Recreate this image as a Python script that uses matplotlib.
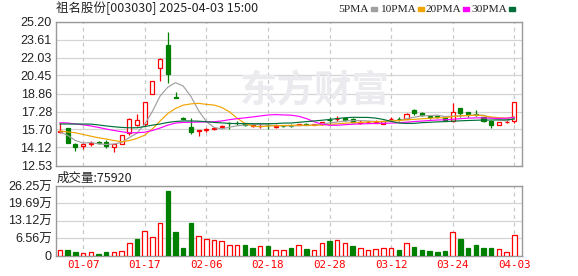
import matplotlib
matplotlib.use('Agg')
import matplotlib.pyplot as plt
from matplotlib.patches import Rectangle

plt.rcParams['font.family'] = ['Noto Sans CJK SC', 'DejaVu Sans']

# ---------------- data ----------------
dates = ['01-02', '01-03', '01-06', '01-07', '01-08', '01-09', '01-10', '01-13', '01-14', '01-15',
         '01-16', '01-17', '01-20', '01-21', '01-22', '01-23', '01-24', '01-27', '02-05', '02-06',
         '02-07', '02-10', '02-11', '02-12', '02-13', '02-14', '02-17', '02-18', '02-19', '02-20',
         '02-21', '02-24', '02-25', '02-26', '02-27', '02-28', '03-03', '03-04', '03-05', '03-06',
         '03-07', '03-10', '03-11', '03-12', '03-13', '03-14', '03-17', '03-18', '03-19', '03-20',
         '03-21', '03-24', '03-25', '03-26', '03-27', '03-28', '03-31', '04-01', '04-02', '04-03']

opens = [15.45, 15.80, 14.38, 14.23, 14.45, 14.56, 14.56, 14.15, 14.44, 15.40,
         16.08, 16.20, 18.84, 21.13, 23.12, 18.52, 16.75, 15.88, 15.58, 15.62,
         15.73, 15.88, 16.28, 16.27, 16.25, 16.03, 15.98, 16.10, 15.94, 16.02,
         16.04, 16.08, 16.20, 16.12, 16.14, 16.52, 16.60, 16.73, 16.64, 16.30,
         16.33, 16.30, 16.20, 16.60, 16.66, 16.64, 17.37, 17.13, 16.85, 16.87,
         16.70, 16.43, 17.55, 17.20, 17.10, 16.76, 16.43, 16.11, 16.38, 16.43]
highs = [16.30, 15.85, 14.47, 14.47, 14.67, 14.67, 14.73, 14.40, 15.20, 16.70,
         17.10, 18.14, 20.00, 21.95, 24.26, 19.02, 16.80, 16.73, 15.66, 15.80,
         15.90, 16.05, 16.32, 16.43, 16.30, 16.10, 16.26, 16.26, 16.14, 16.10,
         16.18, 16.22, 16.25, 16.22, 16.40, 16.78, 16.90, 16.75, 16.73, 16.50,
         16.45, 16.50, 16.45, 16.78, 16.78, 17.15, 17.52, 17.22, 16.90, 16.90,
         16.72, 17.99, 17.60, 17.20, 17.37, 16.82, 16.45, 16.38, 16.50, 18.14]
lows = [15.40, 14.48, 13.80, 14.00, 14.23, 14.38, 14.09, 13.70, 14.40, 15.20,
        16.00, 16.00, 18.80, 20.00, 19.80, 18.44, 16.60, 15.30, 15.10, 15.52,
        15.68, 15.80, 15.78, 16.05, 16.00, 15.95, 15.85, 15.76, 15.87, 15.90,
        15.92, 16.05, 16.05, 16.08, 16.10, 16.20, 16.43, 16.43, 16.25, 16.20,
        16.28, 16.25, 16.18, 16.43, 16.43, 16.60, 16.93, 16.90, 16.65, 16.75,
        16.45, 16.40, 16.82, 16.80, 16.85, 16.32, 15.80, 16.08, 16.30, 16.25]
closes = [15.60, 14.50, 14.20, 14.44, 14.53, 14.52, 14.22, 14.38, 15.17, 16.65,
          16.49, 18.14, 20.00, 21.92, 20.57, 18.46, 16.65, 15.46, 15.64, 15.78,
          15.85, 16.02, 16.23, 16.23, 16.10, 16.06, 16.02, 16.05, 15.97, 15.98,
          15.98, 16.20, 16.12, 16.18, 16.38, 16.49, 16.64, 16.57, 16.32, 16.36,
          16.37, 16.40, 16.43, 16.66, 16.60, 17.10, 17.12, 17.00, 16.80, 16.78,
          16.50, 17.26, 17.13, 17.02, 16.93, 16.45, 16.08, 16.32, 16.40, 18.14]

ma5 = [15.48, 15.17, 14.73, 14.51, 14.55, 14.44, 14.38, 14.42, 14.56, 14.99,
       15.38, 16.17, 17.29, 18.64, 19.42, 19.82, 19.52, 18.61, 17.36, 16.40,
       15.88, 15.75, 15.90, 16.02, 16.09, 16.13, 16.13, 16.09, 16.04, 16.02,
       16.00, 16.04, 16.05, 16.09, 16.17, 16.27, 16.36, 16.45, 16.48, 16.48,
       16.45, 16.40, 16.38, 16.44, 16.49, 16.64, 16.78, 16.90, 16.92, 16.96,
       16.84, 16.87, 16.89, 16.94, 16.97, 16.96, 16.72, 16.56, 16.44, 16.68]
ma10 = [15.57, 15.48, 15.41, 15.26, 15.11, 14.97, 14.86, 14.73, 14.62, 14.72,
        14.91, 15.20, 15.75, 16.45, 17.10, 17.55, 17.84, 17.95, 18.00, 17.91,
        17.85, 17.64, 17.26, 16.69, 16.24, 16.00, 15.94, 16.00, 16.03, 16.05,
        16.06, 16.08, 16.07, 16.07, 16.09, 16.14, 16.20, 16.25, 16.29, 16.32,
        16.36, 16.38, 16.41, 16.46, 16.48, 16.55, 16.59, 16.64, 16.68, 16.73,
        16.74, 16.83, 16.90, 16.93, 16.96, 16.90, 16.80, 16.73, 16.69, 16.82]
ma20 = [16.29, 16.27, 16.18, 16.11, 16.01, 15.88, 15.74, 15.61, 15.50, 15.41,
        15.41, 15.46, 15.61, 15.83, 16.08, 16.26, 16.32, 16.34, 16.35, 16.37,
        16.38, 16.45, 16.56, 16.65, 16.72, 16.80, 16.89, 16.97, 17.01, 16.98,
        16.96, 16.86, 16.66, 16.38, 16.17, 16.07, 16.07, 16.12, 16.16, 16.19,
        16.21, 16.23, 16.24, 16.26, 16.29, 16.34, 16.40, 16.44, 16.49, 16.53,
        16.55, 16.60, 16.65, 16.70, 16.72, 16.72, 16.69, 16.68, 16.69, 16.77]
ma30 = [16.18, 16.18, 16.18, 16.18, 16.17, 16.10, 16.01, 15.94, 15.88, 15.85,
        15.85, 15.96, 16.08, 16.18, 16.32, 16.40, 16.45, 16.45, 16.43, 16.38,
        16.32, 16.28, 16.23, 16.22, 16.22, 16.21, 16.21, 16.21, 16.22, 16.26,
        16.27, 16.33, 16.39, 16.45, 16.51, 16.58, 16.66, 16.73, 16.77, 16.76,
        16.76, 16.70, 16.58, 16.41, 16.27, 16.23, 16.24, 16.30, 16.33, 16.37,
        16.39, 16.43, 16.46, 16.49, 16.51, 16.53, 16.53, 16.54, 16.55, 16.62]

# volume in 万手, and whether the bar is drawn red (up) or green (down)
volumes = [2.0, 2.0, 1.4, 0.9, 1.26, 0.5, 1.26, 1.26, 1.64, 4.7,
           6.2, 9.2, 6.95, 12.3, 24.4, 8.85, 2.8, 12.3, 7.2, 6.1,
           5.8, 5.3, 3.8, 3.8, 3.9, 3.0, 3.4, 3.5, 1.9, 1.9,
           2.8, 3.8, 2.4, 1.9, 4.55, 5.4, 5.7, 4.55, 3.5, 3.0,
           1.9, 2.3, 2.65, 2.65, 2.0, 4.9, 3.2, 2.0, 1.65, 1.26,
           1.65, 8.7, 6.2, 2.8, 3.9, 2.8, 2.8, 2.3, 1.5, 7.592]
vol_up = [1, 0, 0, 1, 1, 0, 0, 1, 1, 1,
          0, 1, 1, 1, 0, 0, 0, 0, 1, 1,
          1, 1, 1, 1, 0, 0, 1, 0, 1, 1,
          0, 1, 0, 1, 1, 0, 1, 1, 0, 1,
          1, 1, 1, 1, 0, 1, 0, 0, 0, 0,
          0, 1, 0, 0, 0, 0, 0, 1, 1, 1]

price_ticks = [12.53, 14.12, 15.70, 17.28, 18.86, 20.45, 22.03, 23.61, 25.20]
vol_ticks = [0, 6.56, 13.12, 19.69, 26.25]
vol_labels = ['0', '6.56万', '13.12万', '19.69万', '26.25万']
date_ticks = ['01-07', '01-17', '02-06', '02-18', '02-28', '03-12', '03-24', '04-03']

title = '祖名股份[003030] 2025-04-03 15:00'
last_vol = 75920

# ---------------- style ----------------
RED = '#ff0000'
GREEN = '#008000'
ma_colors = ['#a0a0a0', '#f2a400', '#ff00ff', '#00703a']
ma_names = ['5PMA', '10PMA', '20PMA', '30PMA']
FRAME = '#999999'
GRID = '#d4d4d4'
W, H = 578, 276

fig = plt.figure(figsize=(W / 100, H / 100), dpi=100)
ax = fig.add_axes([56 / W, 1 - 165.5 / H, 466 / W, 144 / H])
axv = fig.add_axes([56 / W, 1 - 255.5 / H, 466 / W, 69.5 / H])

x = list(range(len(dates)))
date_pos = [dates.index(d) for d in date_ticks]
xlim = (-0.52, 60.0)

# ---- candles ----
body_w = 0.52
for i in x:
    o, h, l, c = opens[i], highs[i], lows[i], closes[i]
    up = c >= o
    col = RED if up else GREEN
    ax.vlines(i, l, h, color=col, lw=0.9, zorder=3)
    ax.add_patch(Rectangle((i - body_w / 2, min(o, c)), body_w, max(abs(c - o), 0.005),
                           facecolor='white' if up else GREEN, edgecolor=col,
                           lw=0.9, zorder=4))

for vals, col in zip([ma5, ma10, ma20, ma30], ma_colors):
    ax.plot(x, vals, color=col, lw=0.85, zorder=5)

ax.set_xlim(*xlim)
ax.set_ylim(price_ticks[0], price_ticks[-1])
ax.set_yticks(price_ticks)
ax.set_yticklabels([f'{t:.2f}' for t in price_ticks], family=['Liberation Sans', 'DejaVu Sans'],
                   fontsize=9, color='#222222')
ax.set_xticks(date_pos)
ax.set_xticklabels([])

# watermark
ax.text(0.555, 0.52, '东方财富', transform=ax.transAxes, fontsize=27, fontweight='bold',
        color='#ebebef', ha='center', va='center', zorder=1)

# ---- volume ----
vcols = [RED if u else GREEN for u in vol_up]
vfill = ['white' if u else GREEN for u in vol_up]
axv.bar(x, volumes, width=0.58, color=vfill, edgecolor=vcols, lw=0.9, zorder=3)
axv.set_xlim(*xlim)
axv.set_ylim(vol_ticks[0], vol_ticks[-1])
axv.set_yticks(vol_ticks)
axv.set_yticklabels(vol_labels, family=['Liberation Sans', 'Noto Sans CJK SC'],
                    fontsize=9, color='#222222')
axv.set_xticks(date_pos)
axv.set_xticklabels(date_ticks, family=['DejaVu Sans Mono'], fontsize=7.8, color=RED)

for a in (ax, axv):
    a.tick_params(length=0, pad=3)
    for s in a.spines.values():
        s.set_color(FRAME)
        s.set_linewidth(1.0)
    a.grid(axis='y', color=GRID, lw=0.9, zorder=0)
    a.grid(axis='x', color='#c8c8c8', lw=0.9, ls=(0, (3, 3)), zorder=0)
    a.set_axisbelow(True)

# ---- header texts ----
fig.text(56 / W, 1 - 8.5 / H, title, fontsize=9, color='#222222', va='center', ha='left')
fig.text(57 / W, 1 - 178 / H, f'成交量:{last_vol}', fontsize=9, color='#222222',
         va='center', ha='left')

# legend: label followed by a small colour swatch
renderer = fig.canvas.get_renderer()
leg_x = [338, 380, 425, 471]
for name, col, tx in zip(ma_names, ma_colors, leg_x):
    t = fig.text(tx / W, 1 - 9 / H, name, fontsize=8.2, color='#222222', va='center', ha='left',
                 family=['Liberation Serif', 'DejaVu Serif'])
    x1 = t.get_window_extent(renderer).x1
    fig.patches.append(Rectangle(((x1 + 2) / W, 1 - 10.5 / H), 6 / W, 3 / H, color=col,
                                 transform=fig.transFigure, figure=fig))

fig.savefig('out.png', dpi=100)
